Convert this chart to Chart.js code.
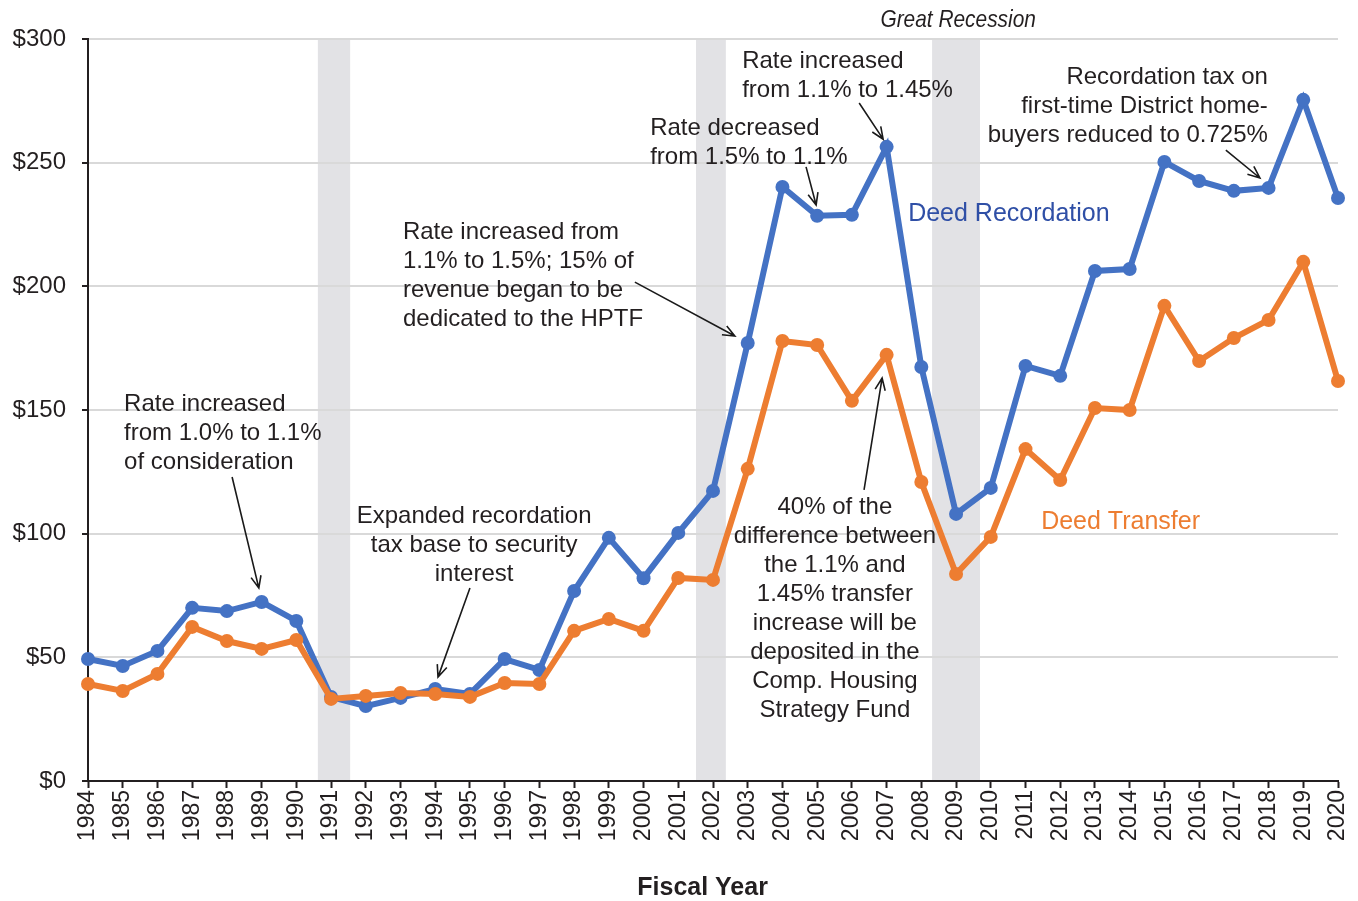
<!DOCTYPE html>
<html>
<head>
<meta charset="utf-8">
<script src="https://cdn.jsdelivr.net/npm/chart.js@4/dist/chart.umd.min.js"></script>
<style>
  html, body { margin: 0; padding: 0; background: #fff; }
  #wrap { width: 1358px; height: 901px; }
</style>
</head>
<body>
<div id="wrap"><canvas id="chart" width="1358" height="901"></canvas></div>
<script>
const years = [1984,1985,1986,1987,1988,1989,1990,1991,1992,1993,1994,1995,1996,1997,1998,1999,2000,2001,2002,
  2003,2004,2005,2006,2007,2008,2009,2010,2011,2012,2013,2014,2015,2016,2017,2018,2019,2020];

const deedRecordation = [49.3,46.5,52.6,70,68.7,72.4,64.7,34,30.3,33.6,37.2,35.2,49.3,44.9,76.8,98.3,82,100.3,117.3,
  177.1,240.2,228.5,228.9,256.4,167.4,108,118.5,167.8,163.8,206.2,207,250.3,242.6,238.6,239.8,275.4,235.7];

const deedTransfer = [39.2,36.4,43.3,62.3,56.6,53.4,57,33.2,34.4,35.6,35.2,34,39.6,39.2,60.7,65.5,60.7,82.1,81.3,
  126.2,177.9,176.3,153.7,172.3,120.9,83.7,98.7,134.2,121.7,150.8,150,192.1,169.8,179.1,186.4,209.9,161.7];

const yTicks = [0,50,100,150,200,250,300];

// recession bands [start, end] in fiscal years
const recessions = [[1990.62,1991.55],[2001.51,2002.37],[2008.31,2009.69]];

// annotations: anchor in data units (year, $)
const notes = [
  { x: 1985.04, y: 152.4, align: "left", lines: ["Rate increased", "from 1.0% to 1.1%", "of consideration"] },
  { x: 1995.12, y: 107.1, align: "center", lines: ["Expanded recordation", "tax base to security", "interest"] },
  { x: 1993.07, y: 222.0, align: "left", lines: ["Rate increased from", "1.1% to 1.5%; 15% of", "revenue began to be", "dedicated to the HPTF"] },
  { x: 2000.19, y: 264.0, align: "left", lines: ["Rate decreased", "from 1.5% to 1.1%"] },
  { x: 2002.84, y: 291.1, align: "left", lines: ["Rate increased", "from 1.1% to 1.45%"] },
  { x: 2017.98, y: 284.6, align: "right", lines: ["Recordation tax on", "first-time District home-", "buyers reduced to 0.725%"] },
  { x: 2005.51, y: 110.8, align: "center", lines: ["40% of the", "difference between", "the 1.1% and", "1.45% transfer",
    "increase will be", "deposited in the", "Comp. Housing", "Strategy Fund"] }
];

const arrows = [
  [1988.15, 122.9, 1988.92, 78.0],
  [1995.0, 78.0, 1994.08, 42.0],
  [1999.75, 201.7, 2002.63, 179.9],
  [2004.68, 248.3, 2004.97, 232.9],
  [2006.21, 274.1, 2006.90, 259.5],
  [2016.77, 255.1, 2017.75, 243.8],
  [2006.35, 117.7, 2006.87, 162.9]
];

const seriesLabels = [
  { text: "Deed Recordation", x: 2007.62, y: 229.2, color: "#2F4FA6" },
  { text: "Deed Transfer", x: 2011.45, y: 104.5, color: "#ED7D31" }
];

const FONT = "'Liberation Sans', Arial, sans-serif";

const bandsPlugin = {
  id: "bands",
  beforeDraw(chart) {
    const { ctx, chartArea, scales: { x } } = chart;
    ctx.save();
    ctx.fillStyle = "#E2E2E5";
    recessions.forEach(([a, b]) => {
      const x0 = x.getPixelForValue(a), x1 = x.getPixelForValue(b);
      ctx.fillRect(x0, chartArea.top + 1, x1 - x0, chartArea.bottom - chartArea.top - 1);
    });
    ctx.restore();
  }
};

const notesPlugin = {
  id: "notes",
  afterDraw(chart) {
    const { ctx, scales: { x, y } } = chart;
    ctx.save();
    ctx.textBaseline = "middle";
    ctx.fillStyle = "#231F20";
    ctx.font = "24px " + FONT;
    notes.forEach(n => {
      const px = x.getPixelForValue(n.x), py = y.getPixelForValue(n.y);
      ctx.textAlign = n.align;
      n.lines.forEach((t, i) => ctx.fillText(t, px, py + i * 29));
    });

    ctx.strokeStyle = "#1a1a1a";
    ctx.lineWidth = 1.6;
    arrows.forEach(([x0, y0, x1, y1]) => {
      const ax = x.getPixelForValue(x0), ay = y.getPixelForValue(y0);
      const bx = x.getPixelForValue(x1), by = y.getPixelForValue(y1);
      const ang = Math.atan2(by - ay, bx - ax);
      const h = 13;
      ctx.beginPath();
      ctx.moveTo(ax, ay); ctx.lineTo(bx, by);
      ctx.moveTo(bx - h * Math.cos(ang - 0.4), by - h * Math.sin(ang - 0.4));
      ctx.lineTo(bx, by);
      ctx.lineTo(bx - h * Math.cos(ang + 0.4), by - h * Math.sin(ang + 0.4));
      ctx.stroke();
    });

    ctx.textAlign = "left";
    ctx.font = "25px " + FONT;
    seriesLabels.forEach(s => {
      ctx.fillStyle = s.color;
      ctx.fillText(s.text, x.getPixelForValue(s.x), y.getPixelForValue(s.y));
    });

    // axis title sits a little left of the axis centre in the original
    ctx.fillStyle = "#231F20";
    ctx.textAlign = "center";
    ctx.font = "bold 25px " + FONT;
    ctx.fillText("Fiscal Year", x.getPixelForValue(2001.7), chart.height - 13);

    // narrow italic heading over the Great Recession band
    ctx.font = "italic 24px " + FONT;
    const gx = x.getPixelForValue(2009.06), gy = y.getPixelForValue(307.7);
    ctx.translate(gx, gy);
    ctx.scale(0.87, 1);
    ctx.fillText("Great Recession", 0, 0);
    ctx.restore();
  }
};

new Chart(document.getElementById("chart"), {
  type: "line",
  data: {
    datasets: [
      {
        label: "Deed Recordation",
        data: years.map((yr, i) => ({ x: yr, y: deedRecordation[i] })),
        borderColor: "#4472C4", backgroundColor: "#4472C4",
        borderWidth: 6, pointRadius: 7, pointBorderWidth: 0, pointHoverRadius: 7,
        order: 2, clip: false, tension: 0
      },
      {
        label: "Deed Transfer",
        data: years.map((yr, i) => ({ x: yr, y: deedTransfer[i] })),
        borderColor: "#ED7D31", backgroundColor: "#ED7D31",
        borderWidth: 6, pointRadius: 7, pointBorderWidth: 0, pointHoverRadius: 7,
        order: 1, clip: false, tension: 0
      }
    ]
  },
  options: {
    responsive: false,
    animation: false,
    events: [],
    layout: { padding: { top: 39, right: 20, left: 0, bottom: 0 } },
    plugins: { legend: { display: false }, tooltip: { enabled: false } },
    scales: {
      x: {
        type: "linear",
        min: 1984, max: 2020,
        afterFit: s => { s.height = 120; s.paddingLeft = 0; s.paddingRight = 0; },
        afterBuildTicks: s => { s.ticks = years.map(v => ({ value: v })); },
        ticks: {
          autoSkip: false, maxRotation: 90, minRotation: 90, padding: 2,
          color: "#231F20", font: { family: FONT, size: 23 },
          callback: v => String(v)
        },
        grid: { drawOnChartArea: false, tickLength: 7, tickColor: "#231F20", tickWidth: 2 },
        border: { color: "#231F20", width: 2 },
        title: { display: false }
      },
      y: {
        min: 0, max: 300,
        afterFit: s => { s.width = 88; s.paddingTop = 0; s.paddingBottom = 0; },
        afterBuildTicks: s => { s.ticks = yTicks.map(v => ({ value: v })); },
        ticks: {
          padding: 16, color: "#231F20", font: { family: FONT, size: 24 },
          callback: v => "$" + v
        },
        grid: {
          color: "#D9D9D9", lineWidth: 2, tickLength: 6, tickColor: "#231F20", tickWidth: 2
        },
        border: { color: "#231F20", width: 2 }
      }
    }
  },
  plugins: [bandsPlugin, notesPlugin]
});
</script>
</body>
</html>
